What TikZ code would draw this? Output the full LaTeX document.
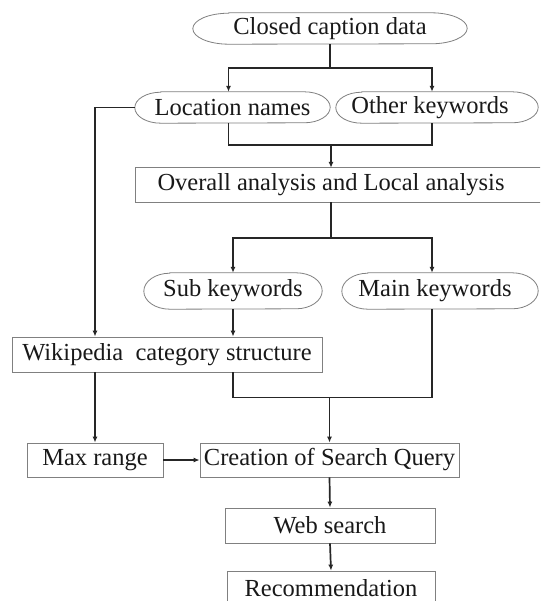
\documentclass[tikz,border=0pt]{standalone}
\usepackage{fontspec}
\setmainfont{Liberation Serif}
\usetikzlibrary{arrows.meta,calc}

% Oval outline around a node: straight top and bottom, elliptical ends.
% #1 node name, #2 half height, #3 extra length on the right, #4 end radius
\newcommand\drawoval[4]{%
  \draw[shapeline] ([xshift=#4]#1.north west) -- ([xshift=#3-#4]#1.north east)
    arc[start angle=90,end angle=-90,x radius=#4,y radius=#2]
    -- ([xshift=#4]#1.south west)
    arc[start angle=270,end angle=90,x radius=#4,y radius=#2] -- cycle;}

\tikzset{
  x=1pt, y=1pt,
  shapeline/.style={draw=black!50, line width=0.8pt},
  lbl/.style={inner sep=0pt, text=black!90, font=\fontsize{24.5}{26}\selectfont},
  boxnode/.style={lbl, draw=black!50, line width=0.8pt},
  conn/.style={draw=black!85, line width=1.7pt},
  arr/.style={conn, -{Latex[length=6pt,width=5pt]}},
}

\begin{document}
\begin{tikzpicture}
  \useasboundingbox (0,0) rectangle (540,-601);
  \clip (0,0) rectangle (540,-601);
  \fill[white] (0,0) rectangle (540,-601);

  % ovals
  \node[lbl, minimum width=274, minimum height=31] (ccd) at (330,-28.5) {Closed caption data};
  \node[lbl, minimum width=195, minimum height=31] (loc) at (232.5,-107.5) {Location names};
  \node[lbl, minimum width=188, minimum height=31] (oth) at (430,-107.5) {Other keywords};
  \node[lbl, minimum width=178, minimum height=36] (sub) at (233,-291) {Sub keywords};
  \node[lbl, minimum width=186, minimum height=36] (main) at (435,-291) {Main keywords};
  \drawoval{ccd}{15.5pt}{0pt}{36pt}
  \drawoval{loc}{15.5pt}{0pt}{26pt}
  \drawoval{oth}{15.5pt}{14pt}{26pt}
  \drawoval{sub}{18pt}{0pt}{26pt}
  \drawoval{main}{18pt}{10pt}{26pt}

  % boxes
  \node[lbl, minimum width=390, minimum height=34] (ovr) at (331,-185) {Overall analysis and Local analysis};
  \draw[shapeline] (ovr.south west) rectangle ([xshift=30pt]ovr.north east);
  \node[boxnode, minimum width=310, minimum height=35] (wiki) at (167,-354.5) {Wikipedia\ \ category structure};
  \node[boxnode, minimum width=136, minimum height=34] (max) at (95,-460) {Max range};
  \node[boxnode, minimum width=259, minimum height=34] (cre) at (329.5,-460) {Creation of Search Query};
  \node[boxnode, minimum width=210, minimum height=35] (web) at (330,-525.5) {Web search};
  \node[boxnode, minimum width=208, minimum height=34] (rec) at (331,-588) {Recommendation};

  % connectors
  \coordinate (s1) at ($(ccd.south)+(0,-24)$);
  \draw[conn] (ccd.south) -- (s1);
  \draw[arr] (s1) -| ([xshift=-4pt]loc.north);
  \draw[arr] (s1) -| ([xshift=2pt]oth.north);

  \draw[arr] (loc.west) -| (max.north |- wiki.north);

  \coordinate (m1) at ($(loc.south)+(0,-22)$);
  \draw[conn] ([xshift=-4pt]loc.south) -- ([xshift=-4pt]m1) -| ([xshift=2pt]oth.south);
  \draw[arr] (ovr.north |- m1) -- (ovr.north);

  \coordinate (s2) at ($(ovr.south)+(0,-36)$);
  \draw[conn] (ovr.south) -- (s2);
  \draw[arr] (s2) -| (sub.north);
  \draw[arr] (s2) -| ([xshift=-3pt]main.north);

  \draw[arr] (sub.south) -- (sub.south |- wiki.north);

  \coordinate (m2) at ($(sub.south |- wiki.south)+(0,-25)$);
  \draw[conn] (sub.south |- wiki.south) -- (m2) -| ([xshift=-3pt]main.south);
  \draw[arr] (cre.north |- m2) -- (cre.north);

  \draw[arr] (max.north |- wiki.south) -- (max.north);
  \draw[arr] (max.east) -- (cre.west);
  \draw[arr] (cre.south) -- (web.north);
  \draw[arr] (web.south) -- (rec.north);
\end{tikzpicture}
\end{document}
